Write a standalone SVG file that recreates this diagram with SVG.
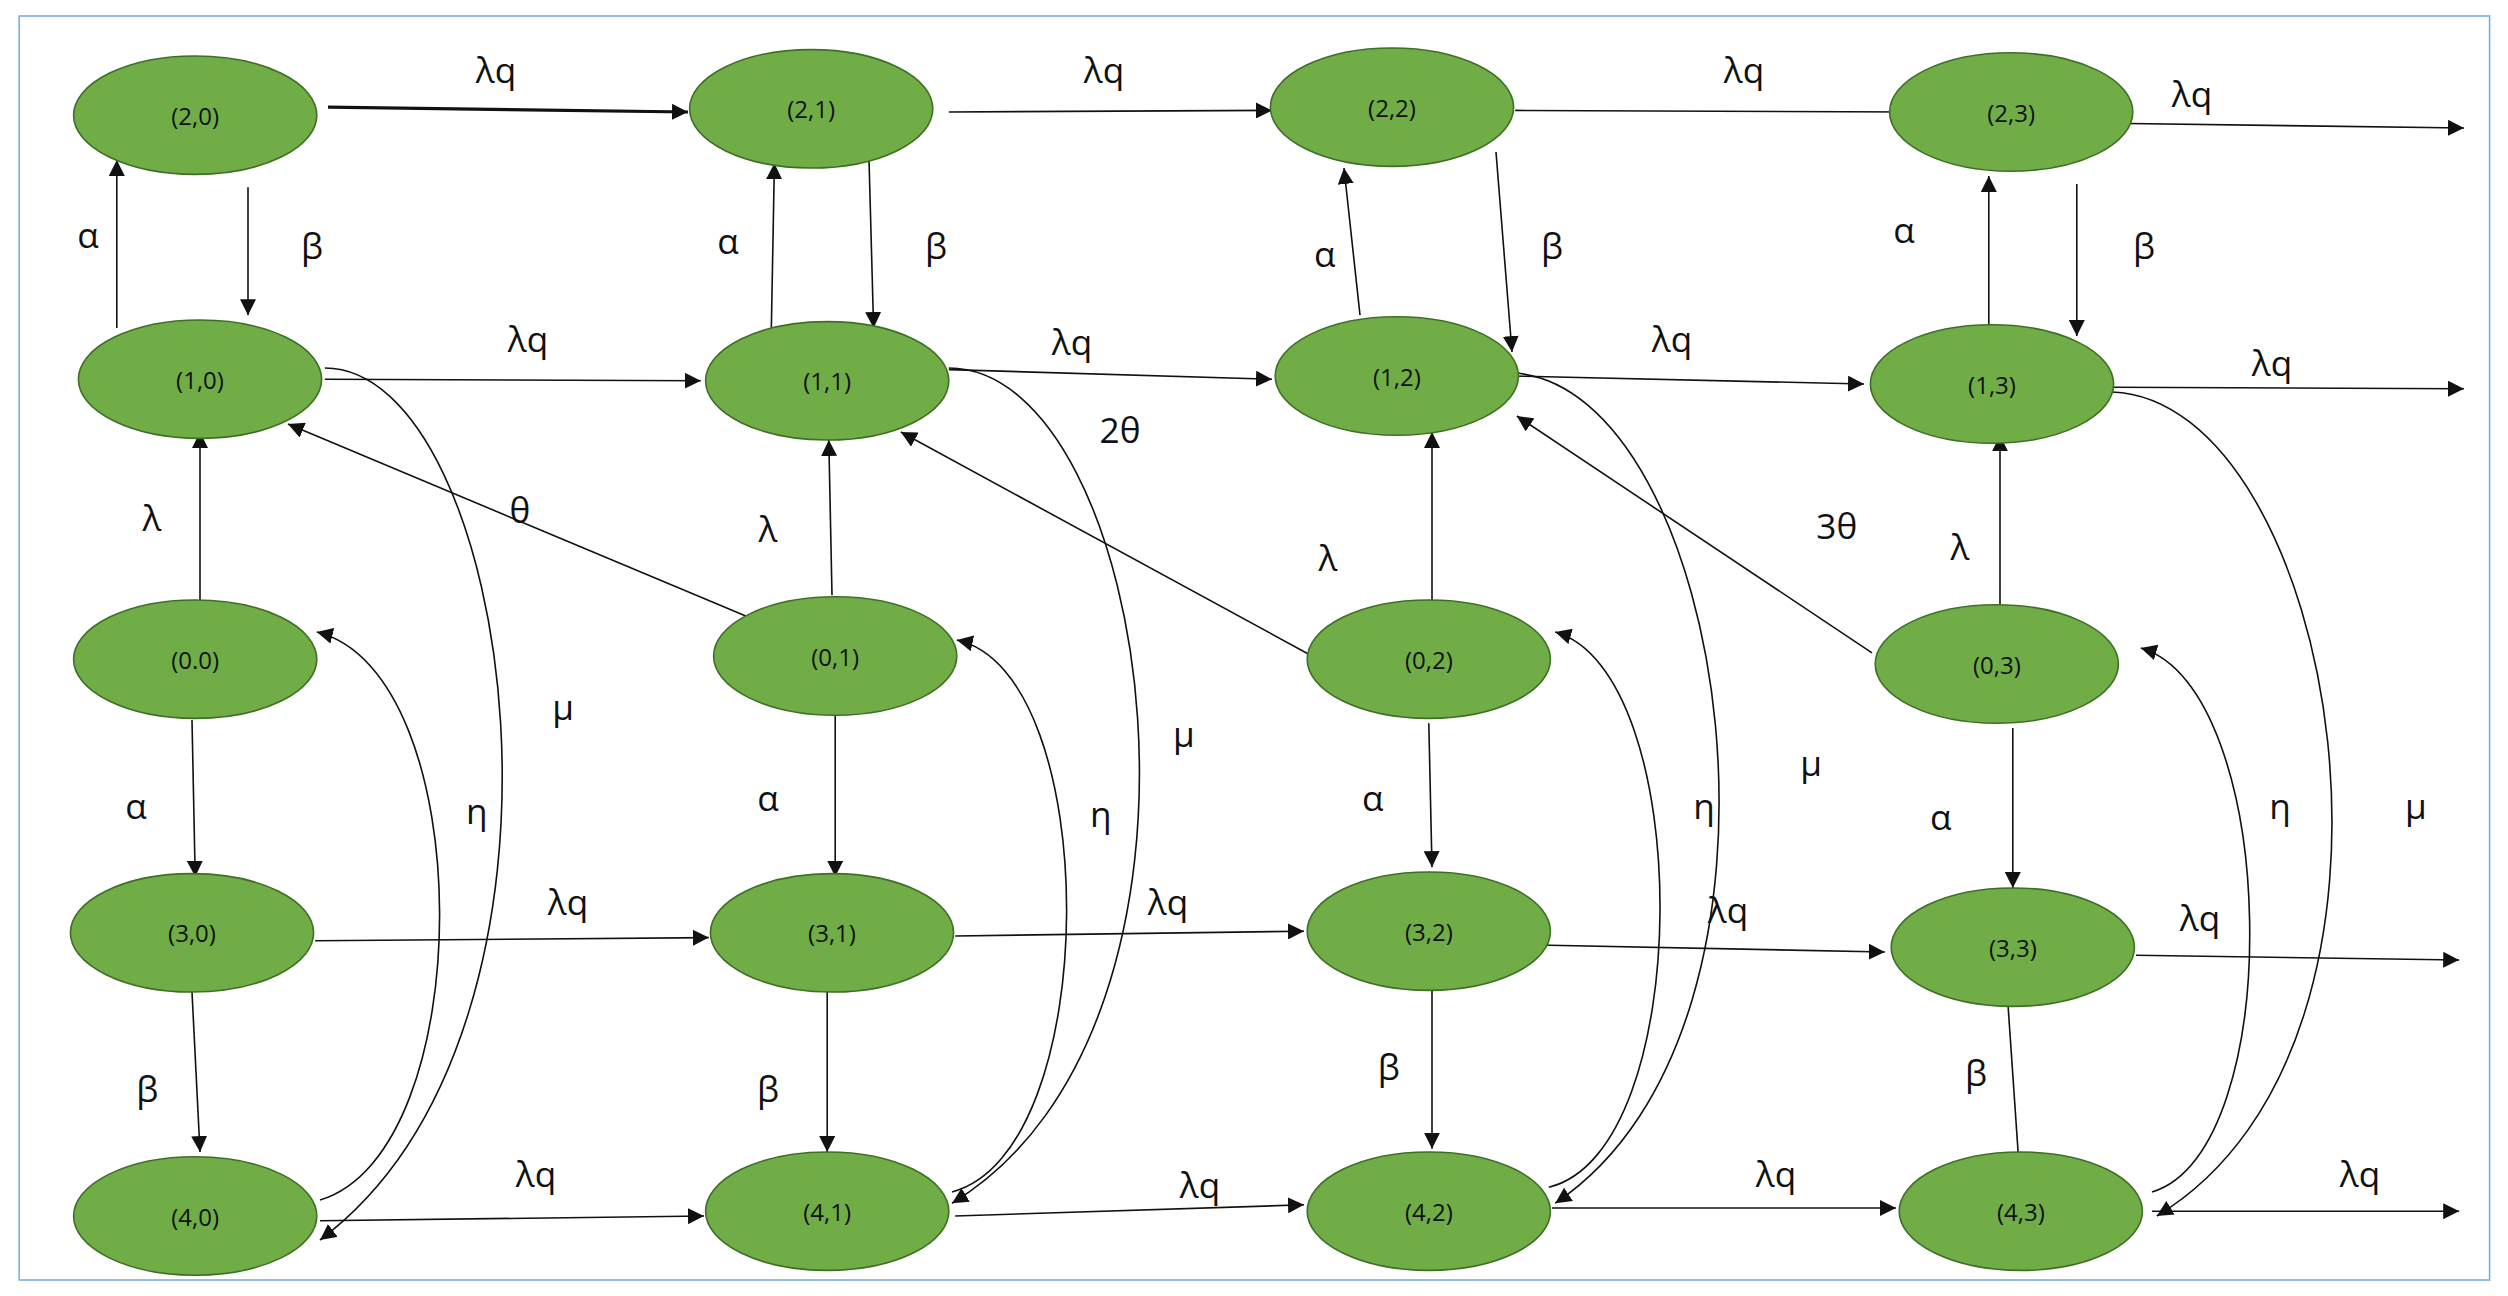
<svg xmlns="http://www.w3.org/2000/svg" width="2508" height="1296" viewBox="0 0 2508 1296">
<style>
.n ellipse{fill:#70ad47;stroke:#3f6e27;stroke-width:1}
.n text{font-family:"Open Sans","Liberation Sans",sans-serif;font-size:15px;fill:#111;text-anchor:middle;dominant-baseline:central}
.e path,.e line{fill:none;stroke:#111;stroke-width:1;marker-end:url(#a)}
.l text{font-family:"Open Sans","Liberation Sans",sans-serif;font-size:22px;fill:#111;text-anchor:middle}
</style>
<defs><marker id="a" viewBox="0 0 10 10" refX="10" refY="5" markerWidth="10" markerHeight="10" markerUnits="userSpaceOnUse" orient="auto"><path d="M0,0L10,5L0,10z" fill="#111"/></marker></defs>
<rect x="0" y="0" width="2508" height="1296" fill="#fff"/>
<g transform="scale(1.6)">
<rect x="12" y="10" width="1544" height="790" fill="none" stroke="#7aaee0" stroke-width="1"/>
<g class="e" id="connectors">
<line x1="205" y1="67" x2="430" y2="70" style="stroke-width:2"/>
<line x1="593" y1="70" x2="795" y2="69"/>
<line x1="947" y1="69" x2="1195" y2="70"/>
<line x1="1318" y1="77" x2="1540" y2="80"/>
<line x1="203" y1="237" x2="438" y2="238"/>
<line x1="593" y1="231" x2="795" y2="237"/>
<line x1="945" y1="235" x2="1165" y2="240"/>
<line x1="1320" y1="242" x2="1540" y2="243"/>
<line x1="197" y1="588" x2="443" y2="586"/>
<line x1="597" y1="585" x2="815" y2="582"/>
<line x1="930" y1="590" x2="1178" y2="595"/>
<line x1="1335" y1="597" x2="1537" y2="600"/>
<line x1="200" y1="763" x2="440" y2="760"/>
<line x1="597" y1="760" x2="815" y2="753"/>
<line x1="970" y1="755" x2="1185" y2="755"/>
<line x1="1345" y1="757" x2="1537" y2="757"/>
<line x1="73" y1="205" x2="73" y2="100"/>
<line x1="155" y1="117" x2="155" y2="197"/>
<line x1="482" y1="210" x2="484" y2="102"/>
<line x1="543" y1="95" x2="546" y2="205"/>
<line x1="850" y1="197" x2="840" y2="105"/>
<line x1="935" y1="95" x2="945" y2="220"/>
<line x1="1243" y1="205" x2="1243" y2="110"/>
<line x1="1298" y1="115" x2="1298" y2="210"/>
<line x1="125" y1="375" x2="125" y2="270"/>
<line x1="520" y1="372" x2="518" y2="275"/>
<line x1="895" y1="377" x2="895" y2="270"/>
<line x1="1250" y1="380" x2="1250" y2="272"/>
<line x1="490" y1="395" x2="180" y2="265"/>
<line x1="820" y1="410" x2="563" y2="270"/>
<line x1="1170" y1="408" x2="948" y2="260"/>
<line x1="120" y1="450" x2="122" y2="548"/>
<line x1="522" y1="447" x2="522" y2="548"/>
<line x1="893" y1="452" x2="895" y2="542"/>
<line x1="1258" y1="455" x2="1258" y2="555"/>
<line x1="120" y1="620" x2="125" y2="720"/>
<line x1="517" y1="618" x2="517" y2="720"/>
<line x1="895" y1="618" x2="895" y2="718"/>
<line x1="1255" y1="628" x2="1262" y2="730"/>
<path d="M200,750 C300,720 300,420 198,395"/>
<path d="M595,745 C690,720 690,420 598,400"/>
<path d="M968,742 C1060,720 1060,420 972,395"/>
<path d="M1345,745 C1430,720 1425,430 1338,405"/>
<path d="M203,230 C320,230 380,640 200,775"/>
<path d="M593,230 C720,230 780,640 595,752"/>
<path d="M945,233 C1080,240 1140,640 972,752"/>
<path d="M1320,245 C1460,250 1530,650 1348,760"/>
</g>
<g class="l">
<text x="310" y="52">λq</text><text x="690" y="52">λq</text><text x="1090" y="52">λq</text><text x="1370" y="67">λq</text>
<text x="330" y="220">λq</text><text x="670" y="222">λq</text><text x="1045" y="220">λq</text><text x="1420" y="235">λq</text>
<text x="355" y="572">λq</text><text x="730" y="572">λq</text><text x="1080" y="577">λq</text><text x="1375" y="582">λq</text>
<text x="335" y="742">λq</text><text x="750" y="749">λq</text><text x="1110" y="742">λq</text><text x="1475" y="742">λq</text>
<text x="55" y="155">α</text><text x="455" y="159">α</text><text x="828" y="167">α</text><text x="1190" y="152">α</text>
<text x="195" y="162">β</text><text x="585" y="162">β</text><text x="970" y="162">β</text><text x="1340" y="162">β</text>
<text x="95" y="332">λ</text><text x="480" y="339">λ</text><text x="830" y="357">λ</text><text x="1225" y="350">λ</text>
<text x="325" y="327">θ</text><text x="700" y="277">2θ</text><text x="1148" y="337">3θ</text>
<text x="85" y="512">α</text><text x="480" y="507">α</text><text x="858" y="507">α</text><text x="1213" y="519">α</text>
<text x="92" y="689">β</text><text x="480" y="689">β</text><text x="868" y="675">β</text><text x="1235" y="679">β</text>
<text x="298" y="515">η</text><text x="688" y="517">η</text><text x="1065" y="512">η</text><text x="1425" y="512">η</text>
<text x="352" y="450">μ</text><text x="740" y="467">μ</text><text x="1132" y="485">μ</text><text x="1510" y="512">μ</text>
</g>
<g class="n" id="n20"><ellipse cx="122" cy="72" rx="76" ry="37"/><text x="122" y="72">(2,0)</text></g>
<g class="n" id="n21"><ellipse cx="507" cy="68" rx="76" ry="37"/><text x="507" y="68">(2,1)</text></g>
<g class="n" id="n22"><ellipse cx="870" cy="67" rx="76" ry="37"/><text x="870" y="67">(2,2)</text></g>
<g class="n" id="n23"><ellipse cx="1257" cy="70" rx="76" ry="37"/><text x="1257" y="70">(2,3)</text></g>
<g class="n" id="n10"><ellipse cx="125" cy="237" rx="76" ry="37"/><text x="125" y="237">(1,0)</text></g>
<g class="n" id="n11"><ellipse cx="517" cy="238" rx="76" ry="37"/><text x="517" y="238">(1,1)</text></g>
<g class="n" id="n12"><ellipse cx="873" cy="235" rx="76" ry="37"/><text x="873" y="235">(1,2)</text></g>
<g class="n" id="n13"><ellipse cx="1245" cy="240" rx="76" ry="37"/><text x="1245" y="240">(1,3)</text></g>
<g class="n" id="n00"><ellipse cx="122" cy="412" rx="76" ry="37"/><text x="122" y="412">(0.0)</text></g>
<g class="n" id="n01"><ellipse cx="522" cy="410" rx="76" ry="37"/><text x="522" y="410">(0,1)</text></g>
<g class="n" id="n02"><ellipse cx="893" cy="412" rx="76" ry="37"/><text x="893" y="412">(0,2)</text></g>
<g class="n" id="n03"><ellipse cx="1248" cy="415" rx="76" ry="37"/><text x="1248" y="415">(0,3)</text></g>
<g class="n" id="n30"><ellipse cx="120" cy="583" rx="76" ry="37"/><text x="120" y="583">(3,0)</text></g>
<g class="n" id="n31"><ellipse cx="520" cy="583" rx="76" ry="37"/><text x="520" y="583">(3,1)</text></g>
<g class="n" id="n32"><ellipse cx="893" cy="582" rx="76" ry="37"/><text x="893" y="582">(3,2)</text></g>
<g class="n" id="n33"><ellipse cx="1258" cy="592" rx="76" ry="37"/><text x="1258" y="592">(3,3)</text></g>
<g class="n" id="n40"><ellipse cx="122" cy="760" rx="76" ry="37"/><text x="122" y="760">(4,0)</text></g>
<g class="n" id="n41"><ellipse cx="517" cy="757" rx="76" ry="37"/><text x="517" y="757">(4,1)</text></g>
<g class="n" id="n42"><ellipse cx="893" cy="757" rx="76" ry="37"/><text x="893" y="757">(4,2)</text></g>
<g class="n" id="n43"><ellipse cx="1263" cy="757" rx="76" ry="37"/><text x="1263" y="757">(4,3)</text></g>
</g>
</svg>
